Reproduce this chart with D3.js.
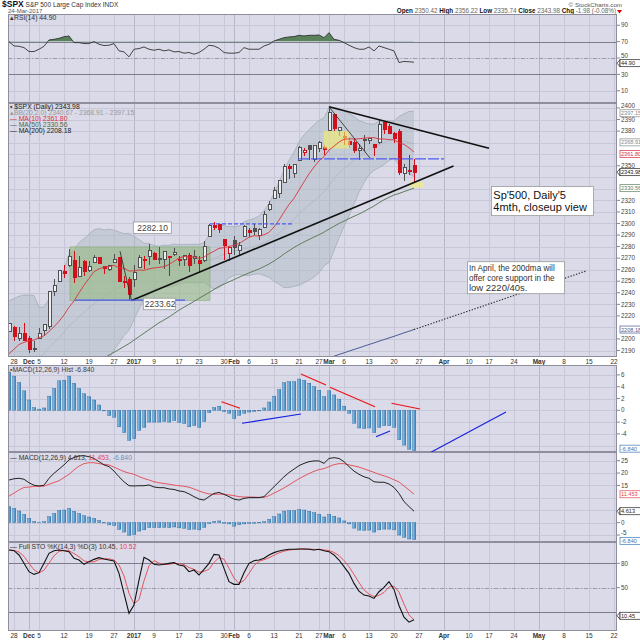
<!DOCTYPE html>
<html>
<head>
<meta charset="utf-8">
<script src="https://d3js.org/d3.v7.min.js"></script>
<style>
  body { margin: 0; background: #fff; }
  svg { display: block; }
  text { font-family: "Liberation Sans", Arial, sans-serif; }
</style>
</head>
<body>
<svg id="chart" width="640" height="640"></svg>
<script>
// ---- calendar ----
var firstDay = "2016-11-25", lastDay = "2017-05-22";
var holidays = ["2016-12-26", "2017-01-02", "2017-01-16", "2017-02-20", "2017-04-14"];
var tickDates = ["2016-11-28","2016-12-01","2016-12-05","2016-12-12","2016-12-19","2016-12-27","2017-01-03","2017-01-09",
  "2017-01-17","2017-01-23","2017-01-30","2017-02-01","2017-02-06","2017-02-13","2017-02-21","2017-02-27","2017-03-01",
  "2017-03-06","2017-03-13","2017-03-20","2017-03-27","2017-04-03","2017-04-10","2017-04-17","2017-04-24","2017-05-01",
  "2017-05-08","2017-05-15","2017-05-22"];
var tickLabels = ["28","Dec","5","12","19","27","2017","9","17","23","30","Feb","6","13","21","27","Mar","6","13","20","27",
  "Apr","10","17","24","May","8","15","22"];
var monthLabels = ["Dec", "2017", "Feb", "Mar", "Apr", "May"];

// ---- daily prices 25-Nov-2016 .. 24-Mar-2017 ----
var opens = [2206.27,2210.21,2200.76,2204.97,2200.17,2191.12,2200.65,2207.26,2210.72,2241.13,
  2249.73,2258.83,2263.32,2268.35,2253.77,2266.81,2259.24,2266.50,2270.54,2262.93,
  2260.25,2266.23,2270.23,2249.50,2251.61,2251.57,2261.60,2268.18,2271.14,2273.59,
  2269.72,2268.60,2271.14,2272.74,2269.14,2269.14,2271.90,2269.96,2267.78,2267.88,
  2288.88,2298.63,2299.02,2286.01,2274.02,2285.59,2276.69,2288.54,2294.28,2295.87,
  2289.55,2296.70,2312.27,2321.72,2326.12,2335.58,2349.64,2343.01,2354.91,2361.11,
  2367.50,2355.73,2365.23,2366.08,2380.13,2394.75,2380.92,2375.23,2370.74,2369.81,
  2363.49,2372.52,2371.56,2368.55,2370.34,2387.71,2383.71,2378.24,2379.32,2343.00,
  2345.97,2350.42];
var highs = [2213.35,2211.14,2210.46,2214.10,2202.60,2197.95,2209.42,2212.78,2241.63,2251.69,
  2259.80,2264.03,2277.53,2276.20,2272.12,2268.05,2267.47,2272.56,2271.23,2263.18,
  2263.79,2273.82,2271.31,2254.51,2253.58,2263.88,2272.82,2271.50,2282.10,2275.49,
  2279.27,2275.32,2271.78,2278.68,2272.08,2272.01,2274.33,2276.96,2271.78,2284.63,
  2299.55,2300.99,2299.02,2286.01,2279.09,2289.14,2283.97,2298.31,2296.18,2299.40,
  2295.91,2311.08,2319.23,2331.58,2337.58,2351.30,2351.31,2351.16,2366.71,2365.13,
  2368.26,2367.34,2371.54,2367.79,2400.98,2394.75,2383.89,2378.80,2375.12,2373.09,
  2369.08,2376.86,2374.42,2368.55,2390.01,2388.10,2385.71,2379.55,2381.93,2351.81,
  2358.92,2356.22];
var lows = [2206.27,2198.36,2198.15,2198.81,2187.44,2188.37,2199.97,2202.21,2208.93,2237.57,
  2249.23,2252.37,2262.72,2248.44,2253.77,2254.24,2258.21,2266.14,2265.15,2256.08,
  2258.84,2266.15,2249.11,2244.56,2233.62,2245.13,2261.60,2260.45,2264.06,2268.04,
  2265.27,2260.83,2254.25,2271.51,2262.81,2263.35,2258.41,2265.01,2257.02,2266.68,
  2288.88,2294.08,2291.62,2268.04,2267.21,2272.44,2271.65,2287.88,2288.57,2290.16,
  2285.38,2296.61,2311.10,2321.42,2322.17,2334.81,2338.87,2339.58,2354.91,2358.34,
  2355.09,2352.87,2361.87,2358.96,2380.13,2380.17,2375.39,2367.98,2365.51,2361.01,
  2354.54,2363.04,2368.52,2358.18,2368.94,2377.18,2377.64,2369.66,2341.90,2336.45,
  2342.13,2335.74];
var closes = [2213.35,2201.72,2204.66,2198.81,2191.08,2191.95,2204.71,2212.23,2241.35,2246.19,
  2259.53,2256.96,2271.72,2253.28,2262.03,2258.07,2262.53,2270.76,2265.18,2260.96,
  2263.79,2268.88,2249.92,2249.26,2238.83,2257.83,2270.75,2269.00,2276.98,2268.90,
  2268.90,2275.32,2270.44,2274.64,2267.89,2271.89,2263.69,2271.31,2265.20,2280.07,
  2298.37,2296.68,2294.69,2280.90,2278.87,2279.55,2280.85,2297.42,2292.56,2293.08,
  2294.67,2307.87,2316.10,2328.25,2337.58,2349.25,2347.22,2351.16,2365.38,2362.82,
  2363.81,2367.34,2369.75,2363.64,2395.96,2381.92,2383.12,2375.31,2368.39,2362.98,
  2364.87,2372.60,2373.47,2365.45,2385.26,2381.38,2378.25,2373.47,2344.02,2348.45,
  2345.96,2343.98];
var prevClose = 2204.72;

// ---- overlays ----
var ma10 = [2187.3,2191.1,2195.2,2197.1,2198.5,2199.0,2201.3,2202.7,2206.5,2210.6,
  2215.3,2220.8,2227.5,2232.9,2240.0,2246.6,2252.4,2258.3,2260.7,2262.2,
  2262.6,2263.8,2261.6,2261.2,2258.9,2258.9,2259.7,2259.5,2260.7,2261.5,
  2262.0,2262.6,2264.6,2267.2,2270.1,2271.5,2270.8,2271.0,2269.8,2270.9,
  2273.8,2276.0,2278.5,2279.1,2280.2,2281.0,2282.7,2285.3,2288.1,2289.4,
  2289.1,2290.2,2292.3,2297.0,2302.9,2309.8,2316.4,2321.8,2329.0,2336.0,
  2342.9,2348.8,2354.2,2357.8,2363.6,2366.9,2370.5,2372.9,2373.2,2373.2,
  2373.3,2373.9,2374.2,2374.3,2373.2,2373.1,2372.6,2372.4,2370.0,2368.5,
  2365.5,2361.8];
var bbMid = [2155.5,2159.3,2163.2,2167.6,2172.3,2177.5,2183.5,2187.5,2192.5,2196.7,
  2201.3,2206.0,2211.4,2215.0,2219.3,2222.8,2226.9,2230.5,2233.6,2236.4,
  2239.0,2242.3,2244.6,2247.1,2249.5,2252.8,2256.1,2258.9,2260.7,2261.9,
  2262.3,2263.2,2263.1,2264.2,2264.5,2265.2,2265.3,2265.3,2265.3,2266.2,
  2267.9,2269.3,2271.6,2273.2,2275.2,2276.3,2276.8,2278.2,2279.0,2280.2,
  2281.5,2283.1,2285.4,2288.1,2291.6,2295.4,2299.6,2303.6,2308.6,2312.7,
  2316.0,2319.5,2323.3,2327.4,2333.3,2338.4,2343.5,2347.4,2351.1,2354.6,
  2358.1,2361.4,2364.2,2366.1,2368.4,2370.0,2371.6,2372.7,2371.6,2370.9,
  2370.0,2368.91];
var bbUpper = [2233,2235,2237,2238,2238,2237.7,2227.5,2227.5,2234.5,2242.7,
  2250,2260,2273.4,2277,2283.3,2286.8,2290.9,2294.5,2295.6,2294.4,
  2295,2294.3,2292.6,2291.1,2291.5,2288.8,2286.1,2282.9,2282.7,2280.9,
  2280.3,2281.2,2281.1,2282.2,2281.5,2281.8,2281.9,2281.9,2281.9,2283.2,
  2289.9,2295.3,2298.6,2298.2,2297.2,2297.3,2297.8,2301.2,2303,2304.2,
  2306.5,2311.1,2317.4,2326.1,2335.6,2346.4,2354.6,2361.6,2370.6,2376.7,
  2381,2385.5,2389.3,2391.4,2400.3,2400.4,2399.5,2397.4,2395.1,2392.6,
  2389.1,2387.4,2386.2,2386.1,2388.4,2389,2388.6,2388.7,2392.6,2394.9,
  2397,2397.15];
var bbLower = [2078,2083,2089,2098,2106,2117,2139.5,2147.5,2150.5,2150.7,
  2152,2152,2149.4,2153,2155,2158.8,2162.9,2166.5,2171.6,2178.4,
  2183,2190.3,2196.6,2203,2207.5,2216.8,2226,2235,2238.7,2242.9,
  2244.3,2245.2,2245,2246,2247.5,2248.6,2248.7,2248.7,2248.7,2249,
  2246,2243,2244.6,2248,2253,2255,2256,2255,2255,2256,
  2256.5,2255,2253.4,2250,2247.6,2244.4,2244.6,2245.6,2246.6,2248.7,
  2251,2253.5,2257.3,2263.4,2266.3,2276.4,2287.5,2297.4,2307,2316.6,
  2327,2335.4,2342,2346,2348.4,2351,2354.6,2356.7,2350.6,2346.9,
  2343,2340.67];
var ma50From = 18;
var ma50 = [2181,2183.5,2186,2188.5,2191,2193.5,2196,2199,2202,2205,
  2208,2211,2214,2216.5,2219,2222,2225,2227.5,2230,2232.5,
  2235.2,2237.7,2240.2,2242.9,2245.5,2247.5,2249.5,2251.4,2253.4,2255.4,
  2257.2,2258.9,2260.6,2262.7,2264.9,2267.5,2270.4,2273.6,2276.4,2279.2,
  2281.7,2284.0,2286.1,2288.3,2290.2,2292.5,2295.1,2297.6,2300.0,2302.1,
  2304.2,2306.2,2308.2,2310.3,2312.8,2315.1,2318.0,2320.5,2322.6,2324.7,
  2326.0,2327.6,2329.1,2330.56];
var ma200From = 61;
var ma200 = [2179.3,2180.8,2182.2,2183.7,2185.1,2186.6,2188.0,2189.5,2190.9,2192.3,
  2193.8,2195.2,2196.6,2198.1,2199.5,2200.9,2202.3,2203.8,2205.3,2206.7,2208.18];

// ---- indicators ----
var rsi = [70,64.7,64.3,62.7,57.9,57.9,60.7,64.3,72,72.8,74,76,76.9,68.8,68.8,67.6,67.6,70,66.8,65.2,
  65.6,67.6,58.7,57.5,51.4,60.7,61.5,63.5,60.7,59.5,60.7,58.7,59.9,57.5,57.9,55.9,56.7,54.6,56.7,60.7,
  65.6,64.7,61.9,56.7,55.9,55.9,56.7,62.7,60.7,60.7,60.7,64.7,66.8,70.8,72.8,74.8,75.7,76.1,77.7,76.9,
  77.7,77.7,78.1,74.8,80.9,72.8,71.6,68.8,65.6,62.7,60.7,60.7,63.5,58.7,64.7,62.7,60.7,58.7,44.5,45.8,
  45.4,44.9];
var macdLine = [17.2,17.7,17.9,17.5,16.1,15.1,14.8,15.1,17.9,19.9,21.6,23.3,25.3,26.3,26.9,27.0,26.6,25.9,24.6,23.3,
  22.6,20.8,18.5,16.5,14.9,14.8,14.9,14.9,15.2,14.4,14.1,14.1,13.6,13.4,12.8,12.5,11.6,10.5,9.5,9.1,
  10.5,11.8,12.2,11.4,10.5,9.5,9.1,9.8,10.1,10.1,10.1,10.5,12.5,14.5,16.5,18.5,20.2,21.6,23.0,23.9,
  24.6,24.9,24.9,23.9,25.9,26.2,25.9,24.6,22.6,20.8,19.5,18.5,17.9,16.5,16.3,16.3,15.6,14.2,11.8,8.5,
  6.5,4.613];
var macdSignal = [10.7,11.9,13.2,14.2,14.35,14.65,14.6,14.7,15.5,16.2,16.9,18.2,19.5,21.3,22.8,23.8,24.2,24.15,23.8,23.5,
  23.3,22.4,21.5,20.6,20.0,19.5,18.6,17.8,17.2,16.5,16.1,15.8,15.5,15.15,14.9,14.7,14.3,13.6,12.8,12.1,
  11.6,11.4,11.5,11.5,11.2,10.9,10.5,10.35,10.35,10.3,10.2,10.2,10.9,11.9,12.9,14.0,15.2,16.5,17.7,18.8,
  19.8,20.7,21.4,21.8,22.6,23.4,23.8,23.8,23.3,22.9,22.4,21.7,21.0,20.3,19.5,18.9,18.2,17.3,16.4,14.8,
  13.2,11.453];
var macdHist = [6.5,5.8,4.7,3.3,1.75,0.45,0.2,0.4,2.4,3.7,5.0,5.1,5.8,4.6,3.7,2.8,2.3,1.75,0.9,-0.1,
  -0.9,-1.2,-2.8,-3.8,-5.1,-4.8,-3.4,-2.9,-2.0,-2.0,-2.0,-1.9,-2.0,-1.75,-2.1,-2.25,-2.8,-2.6,-2.9,-1.9,
  -0.4,0.45,0.7,-0.2,-0.5,-1.4,-0.85,-0.5,-0.3,-0.2,-0.1,0.4,1.4,2.4,3.5,4.7,4.85,4.85,5.3,5.1,
  4.6,4.0,3.4,2.3,3.3,2.6,1.9,0.7,-0.5,-2.2,-3.0,-3.1,-3.0,-3.8,-2.9,-2.6,-2.6,-2.9,-5.0,-5.9,
  -6.6,-6.84];
var stoK = [96.5,95.6,90.3,80,69.7,66.4,68.5,80,92.3,95.6,96.5,95.6,94.4,86.2,84.1,78.8,82.1,84.9,87,85.3,
  84.1,82.9,67.7,43,18.3,28.6,59.4,87.4,84.1,78.8,77.9,78.8,80,80.8,77.9,76.7,69.7,71.8,65.6,72.6,
  80,91.1,90.3,73.8,57.4,54.1,54.1,68.5,80,83.3,84.1,86.2,90.3,93.2,95.2,96.5,97.3,97.3,97.7,97.7,
  97.3,96.5,97.3,95.6,94.4,90.3,84.1,75.9,67.7,55.3,45.8,40.9,39.7,36.8,45,50.4,57.4,47.9,28,13.6,
  7.5,10.45];
var stoD = [96.5,96.0,94.1,88.6,80,72.0,68.2,71.6,80.3,89.3,94.8,95.9,95.5,92.1,88.2,83.0,81.7,81.9,84.7,85.7,
  85.5,84.1,78.2,64.5,43,30,35.4,58.5,77.0,83.4,80.3,78.5,78.9,79.9,79.6,78.5,74.8,72.7,69.0,70.0,
  72.7,81.2,87.1,85.1,73.8,61.8,55.2,58.9,67.5,77.3,82.5,84.5,86.9,89.9,92.9,95.0,96.3,97.0,97.4,97.6,
  97.6,97.2,97.0,96.5,95.8,93.4,89.6,83.4,75.9,66.3,56.3,47.3,42.1,39.1,40.5,44.1,50.9,51.9,44.4,29.8,
  16.4,10.52];

// ---- axis ticks ----
var rsiTicks = [90, 70, 50, 30, 10];
var priceTicks = [2400,2390,2380,2370,2360,2350,2340,2330,2320,2310,2300,2290,2280,2270,2260,2250,2240,2230,2220,2210,2200,2190];
var histTicks = [6, 4, 2, 0, -2, -4, -6];
var macdTicks = [25, 20, 15, 10, 5, 0, -5];
var stoTicks = [80, 50, 20];

// ---- annotations (day position, price) ----
var heavyLines = [[64, 2401, 96, 2365.1], [24.5, 2233.3, 88.9, 2349.8]];
var thinLines = [[64, 2401, 72.2, 2356.7], [22.2, 2276, 24.5, 2233.3]];
var levelSolid = [[13.2, 35.2, 2233.6]];
var levelDashed = [[40.2, 57, 2299.6], [57.8, 87, 2355.9]];
var projection = [81, 2208.18, 115.5, 2259];
var greenZones = [[12.2, 40.2, 2279.7, 2233.5]];
var yellowZones = [[62.9, 68.2, 2380.1, 2364.8], [80.1, 83, 2336, 2331]];
var callouts = [[24.86, 2301.3, "2282.10"], [26.86, 2235.3, "2233.62"]];
var noteBig = [96.5, 2331.9, "Sp'500, Daily'5", "4mth, closeup view"];
var noteSmall = [91.7, 2266.9, "In April, the 200dma will", "offer core support in the", "low 2220/40s."];
var histRed = [[42.5, 1.46, 46.2, 0.34], [58.4, 6.15, 63.4, 4.3], [64.2, 3.9, 73.2, 0.6], [76.5, 1.2, 82.2, 0.22]];
var histBlue = [[46.6, -2.2, 58.4, -0.63], [73.4, -4.5, 76.2, -3.5], [84.2, -7.2, 99.4, -0.3]];
var quote = [["Open", "2350.42"], ["High", "2356.22"], ["Low", "2335.74"], ["Close", "2343.98"], ["Chg", "-1.98 (-0.08%)"]];

var plotL = 8, plotR = 617, bg = "#dadae8";
var svg = d3.select("#chart");
var defs = svg.append("defs");
svg.append("rect").attr("width", 640).attr("height", 640).attr("fill", "#fff");

var parseDay = d3.timeParse("%Y-%m-%d"), fmtDay = d3.timeFormat("%Y-%m-%d");
var days = d3.timeDay.range(parseDay(firstDay), d3.timeDay.offset(parseDay(lastDay), 1)).map(fmtDay)
  .filter(function (s) { var w = parseDay(s).getDay(); return w !== 0 && w !== 6 && holidays.indexOf(s) < 0; });
var ticks = tickDates.map(function (s, k) {
  return { p: days.indexOf(s), label: tickLabels[k], month: monthLabels.indexOf(tickLabels[k]) >= 0 };
});

var x = d3.scaleLinear().domain([-0.2, 121.6]).range([plotL, plotR]);
function px(p) { return Math.round(x(p)) + 0.5; }

var grad = defs.append("linearGradient").attr("id", "histGrad").attr("x1", 0).attr("x2", 1).attr("y1", 0).attr("y2", 0);
grad.append("stop").attr("offset", 0).attr("stop-color", "#a8d2ee");
grad.append("stop").attr("offset", 1).attr("stop-color", "#2f7cbc");

function panel(top, bottom, domain, grid) {
  var y = d3.scaleLinear().domain(domain).range([bottom, top]);
  var id = "clip" + top;
  defs.append("clipPath").attr("id", id).append("rect")
    .attr("x", plotL).attr("y", top).attr("width", plotR - plotL).attr("height", bottom - top);
  var g = svg.append("g");
  g.append("rect").attr("x", plotL).attr("y", top).attr("width", plotR - plotL).attr("height", bottom - top).attr("fill", bg);
  ticks.forEach(function (t) {
    g.append("line").attr("x1", px(t.p)).attr("x2", px(t.p)).attr("y1", top).attr("y2", bottom)
      .attr("stroke", t.month ? "#b6b6c8" : "#c7c7d7");
  });
  grid.forEach(function (v) {
    var yy = Math.round(y(v)) + 0.5;
    g.append("line").attr("x1", plotL).attr("x2", plotR).attr("y1", yy).attr("y2", yy).attr("stroke", "#c7c7d7");
  });
  var body = g.append("g").attr("clip-path", "url(#" + id + ")");
  return { y: y, g: g, body: body, top: top, bottom: bottom };
}

function series(P, arr, from) {
  from = from || 0;
  return d3.line().defined(function (d) { return d != null; })
    .x(function (d, i) { return x(i + from); }).y(function (d) { return P.y(d); })(arr);
}

function refLine(P, v, dash, col) {
  var yy = Math.round(P.y(v)) + 0.5;
  P.body.append("line").attr("x1", plotL).attr("x2", plotR).attr("y1", yy).attr("y2", yy)
    .attr("stroke", col).attr("stroke-dasharray", dash);
}

function rightLabels(P, vals, hide, shift) {
  vals.forEach(function (v) {
    if (hide && hide.indexOf(v) >= 0) return;
    var yy = P.y(v);
    var dy = (shift && shift[v]) || 0;
    svg.append("line").attr("x1", plotR).attr("x2", plotR + 3).attr("y1", yy).attr("y2", yy).attr("stroke", "#888");
    svg.append("text").attr("x", plotR + 4).attr("y", yy + 2.2 + dy).attr("font-size", 6.3).attr("fill", "#444").text(v);
  });
}

function tag(yy, txt, col, arrow) {
  var g = svg.append("g");
  if (arrow) {
    g.append("path").attr("d", "M" + plotR + "," + yy + "L" + (plotR + 3) + "," + (yy - 3.5) + "L" + (plotR + 3) + "," + (yy + 3.5) + "Z")
      .attr("fill", "#fff").attr("stroke", col).attr("stroke-width", 0.7);
  }
  g.append("rect").attr("x", plotR + 3).attr("y", yy - 3.5).attr("width", 22).attr("height", 7)
    .attr("fill", "#fff").attr("stroke", col).attr("stroke-width", 0.7);
  g.append("text").attr("x", plotR + 4).attr("y", yy + 2).attr("font-size", 5.6).attr("fill", col).text(txt);
}

function legend(yy, parts) {
  var t = svg.append("text").attr("x", 10).attr("y", yy).attr("font-size", 6.8);
  parts.forEach(function (p) { t.append("tspan").attr("fill", p[1]).text(p[0]); });
}

function finish(P) {
  svg.append("rect").attr("x", plotL + 0.5).attr("y", P.top + 0.5).attr("width", plotR - plotL - 1).attr("height", P.bottom - P.top - 1)
    .attr("fill", "none").attr("stroke", "#8e8e9e");
}

// ---- header ----
var h1 = svg.append("text").attr("x", 2).attr("y", 7).attr("font-size", 6.5).attr("fill", "#333");
h1.append("tspan").attr("font-weight", "bold").attr("font-size", 8.5).attr("fill", "#111").text("$SPX");
h1.append("tspan").text(" S&P 500 Large Cap Index  INDX");
svg.append("text").attr("x", 8).attr("y", 13).attr("font-size", 6).attr("fill", "#555").text("24-Mar-2017");
svg.append("text").attr("x", 622).attr("y", 7).attr("text-anchor", "end").attr("font-size", 6.2).attr("fill", "#555").text("© StockCharts.com");
var h2 = svg.append("text").attr("x", 616).attr("y", 13).attr("text-anchor", "end").attr("font-size", 6.3);
quote.forEach(function (q, k) {
  h2.append("tspan").attr("font-weight", "bold").attr("fill", "#111").text((k ? "  " : "") + q[0] + " ");
  h2.append("tspan").attr("fill", "#666").text(q[1]);
});
svg.append("path").attr("d", "M617,10L622,10L619.5,13.5Z").attr("fill", "#d00");

// ---- RSI ----
var rsiP = panel(14, 103, [-4.9, 103.7], rsiTicks);
refLine(rsiP, 70, null, "#7c7c8c");
refLine(rsiP, 30, null, "#7c7c8c");
refLine(rsiP, 50, "4,2,1,2", "#9a9aaa");
defs.append("clipPath").attr("id", "rsiHigh").append("rect")
  .attr("x", plotL).attr("y", 14).attr("width", plotR - plotL).attr("height", rsiP.y(70) - 14);
rsiP.body.append("path").datum(rsi).attr("clip-path", "url(#rsiHigh)")
  .attr("d", d3.area().x(function (d, i) { return x(i); }).y0(rsiP.y(70)).y1(function (d) { return rsiP.y(d); }))
  .attr("fill", "#5a825a");
rsiP.body.append("path").attr("d", series(rsiP, rsi)).attr("fill", "none").attr("stroke", "#333").attr("stroke-width", 0.9);
finish(rsiP);
legend(20, [["▴RSI(14) 44.90", "#333"]]);
rightLabels(rsiP, rsiTicks, null, { 50: -2 });
tag(rsiP.y(44.9) + 1, "44.90", "#222", true);

// ---- price panel ----
var mainP = panel(103, 357, [2184.4, 2404.3], priceTicks);
var yM = mainP.y, B = mainP.body;
B.append("path").datum(bbUpper)
  .attr("d", d3.area().x(function (d, i) { return x(i); }).y0(function (d, i) { return yM(bbLower[i]); }).y1(function (d) { return yM(d); }))
  .attr("fill", "#aebcc4").attr("fill-opacity", 0.5);
B.append("path").attr("d", series(mainP, bbUpper)).attr("fill", "none").attr("stroke", "#a3aeb8").attr("stroke-width", 0.8);
B.append("path").attr("d", series(mainP, bbLower)).attr("fill", "none").attr("stroke", "#a3aeb8").attr("stroke-width", 0.8);
B.append("path").attr("d", series(mainP, bbMid)).attr("fill", "none").attr("stroke", "#a8b0ba").attr("stroke-width", 0.6);

greenZones.forEach(function (z) {
  B.append("rect").attr("x", x(z[0])).attr("y", yM(z[2])).attr("width", x(z[1]) - x(z[0])).attr("height", yM(z[3]) - yM(z[2]))
    .attr("fill", "#94b87e").attr("fill-opacity", 0.55).attr("stroke", "#8aa878").attr("stroke-width", 0.6);
});

var candles = B.append("g").attr("shape-rendering", "crispEdges");
closes.forEach(function (c, i) {
  var o = opens[i], prev = i ? closes[i - 1] : prevClose;
  var col = c >= prev ? "#505050" : "#d0101a";
  var cx = px(i), top = Math.max(o, c), bot = Math.min(o, c);
  candles.append("line").attr("x1", cx).attr("x2", cx).attr("y1", yM(highs[i])).attr("y2", yM(top)).attr("stroke", col);
  candles.append("line").attr("x1", cx).attr("x2", cx).attr("y1", yM(bot)).attr("y2", yM(lows[i])).attr("stroke", col);
  candles.append("rect").attr("x", cx - 1.5).attr("y", yM(top)).attr("width", 3).attr("height", Math.max(1, yM(bot) - yM(top)))
    .attr("fill", c < o ? col : "#eceef3").attr("stroke", col).attr("stroke-width", 1);
});

yellowZones.forEach(function (z) {
  B.append("rect").attr("x", x(z[0])).attr("y", yM(z[2])).attr("width", x(z[1]) - x(z[0])).attr("height", yM(z[3]) - yM(z[2]))
    .attr("fill", "#f4ee6a").attr("fill-opacity", 0.6);
});

B.append("path").attr("d", series(mainP, ma10)).attr("fill", "none").attr("stroke", "#d8333b").attr("stroke-width", 0.9);
B.append("path").attr("d", series(mainP, ma50, ma50From)).attr("fill", "none").attr("stroke", "#5e7e5e").attr("stroke-width", 1);
B.append("path").attr("d", series(mainP, ma200, ma200From)).attr("fill", "none").attr("stroke", "#4b5c92").attr("stroke-width", 1);

heavyLines.forEach(function (l) {
  B.append("line").attr("x1", x(l[0])).attr("y1", yM(l[1])).attr("x2", x(l[2])).attr("y2", yM(l[3]))
    .attr("stroke", "#111").attr("stroke-width", 1.6);
});
thinLines.forEach(function (l) {
  B.append("line").attr("x1", x(l[0])).attr("y1", yM(l[1])).attr("x2", x(l[2])).attr("y2", yM(l[3]))
    .attr("stroke", "#222").attr("stroke-width", 0.8);
});
levelSolid.forEach(function (l) {
  B.append("line").attr("x1", x(l[0])).attr("x2", x(l[1])).attr("y1", yM(l[2])).attr("y2", yM(l[2]))
    .attr("stroke", "#4f5bf0").attr("stroke-width", 1.4);
});
levelDashed.forEach(function (l, k) {
  B.append("line").attr("x1", x(l[0])).attr("x2", x(l[1])).attr("y1", yM(l[2])).attr("y2", yM(l[2]))
    .attr("stroke", "#4f5bf0").attr("stroke-width", 1.3).attr("stroke-dasharray", k ? "11,2" : "4,2");
});
B.append("line").attr("x1", x(projection[0])).attr("y1", yM(projection[1])).attr("x2", x(projection[2])).attr("y2", yM(projection[3]))
  .attr("stroke", "#222").attr("stroke-width", 1.1).attr("stroke-dasharray", "1.3,1.6");

callouts.forEach(function (c) {
  var g = B.append("g").attr("transform", "translate(" + x(c[0]) + "," + yM(c[1]) + ")");
  g.append("rect").attr("width", c[2] === "2282.10" ? 38 : 32).attr("height", 11.5).attr("fill", "#fff").attr("stroke", "#999").attr("stroke-width", 0.8);
  g.append("text").attr("x", c[2] === "2282.10" ? 4 : 1.5).attr("y", 8.8).attr("font-size", 8.5).attr("fill", "#444").text(c[2]);
});

var nb = B.append("g").attr("transform", "translate(" + x(noteBig[0]) + "," + yM(noteBig[1]) + ")");
nb.append("rect").attr("width", 102).attr("height", 29).attr("fill", "#fff").attr("stroke", "#999").attr("stroke-width", 0.8);
nb.append("text").attr("x", 1.8).attr("y", 12.2).attr("font-size", 11).attr("fill", "#111").text(noteBig[2]);
nb.append("text").attr("x", 1.8).attr("y", 24.8).attr("font-size", 11).attr("fill", "#111").text(noteBig[3]);

var ns = B.append("g").attr("transform", "translate(" + x(noteSmall[0]) + "," + yM(noteSmall[1]) + ")");
ns.append("rect").attr("width", 97).attr("height", 32).attr("fill", "#fff").attr("stroke", "#999").attr("stroke-width", 0.8);
noteSmall.slice(2).forEach(function (s, k) {
  var t = ns.append("text").attr("x", 1.4).attr("y", 9.3 + k * 9.8).attr("font-size", 9.5)
    .style("font-family", "'Liberation Sans Narrow', 'Liberation Sans', Arial, sans-serif").attr("fill", "#333").text(s);
  var w = t.node().getComputedTextLength();
  if (w > 86) t.attr("font-size", 9.5 * 86 / w);
});
finish(mainP);

legend(109, [["▪ $SPX (Daily) 2343.98", "#222"]]);
legend(115, [["▴BB(20,2.0) 2340.67 - 2368.91 - 2397.15", "#999"]]);
legend(121, [["— MA(10) 2361.80", "#d8333b"]]);
legend(127, [["— MA(50) 2330.56", "#4e6a4e"]]);
legend(133, [["— MA(200) 2208.18", "#222"]]);
rightLabels(mainP, priceTicks, [2370, 2360, 2340, 2330, 2210], { 2400: -2 });
tag(yM(2397.15) + 2, "2397.15", "#888");
tag(yM(2368.91) - 1.5, "2368.91", "#888");
tag(yM(2361.80) + 2, "2361.80", "#d8333b");
tag(yM(2343.98) - 0.5, "2343.98", "#222", true);
tag(yM(2330.56), "2330.56", "#5e7e5e");
tag(yM(2208.18), "2208.18", "#4b5c92");

// ---- date labels ----
function dateLabels(yy) {
  ticks.forEach(function (t) {
    svg.append("text").attr("x", x(t.p)).attr("y", yy).attr("text-anchor", "middle").attr("font-size", 6.5)
      .attr("font-weight", t.month ? "bold" : "normal").attr("fill", "#333").text(t.label);
  });
}
dateLabels(363.5);

// ---- MACD histogram ----
var histP = panel(365, 452, [-7.07, 7.68], histTicks);
function bars(P, arr) {
  arr.forEach(function (v, i) {
    var y0 = P.y(0), y1 = P.y(v);
    P.body.append("rect").attr("x", x(i) - 1.8).attr("y", Math.min(y0, y1)).attr("width", 3.6).attr("height", Math.abs(y1 - y0))
      .attr("fill", "url(#histGrad)").attr("stroke", "#2b6a9c").attr("stroke-width", 0.4);
  });
}
bars(histP, macdHist);
finish(histP);
histRed.forEach(function (l) {
  svg.append("line").attr("x1", x(l[0])).attr("y1", histP.y(l[1])).attr("x2", x(l[2])).attr("y2", histP.y(l[3]))
    .attr("stroke", "#ee1111").attr("stroke-width", 1.1);
});
histBlue.forEach(function (l) {
  svg.append("line").attr("x1", x(l[0])).attr("y1", histP.y(l[1])).attr("x2", x(l[2])).attr("y2", histP.y(l[3]))
    .attr("stroke", "#1520e0").attr("stroke-width", 1.1);
});
legend(372, [["▪MACD(12,26,9) Hist -6.840", "#444"]]);
rightLabels(histP, histTicks, [-6]);
tag(histP.y(-6.84) - 2, "-6.840", "#3a78b8");

// ---- MACD ----
var macdP = panel(452, 542, [-7.8, 28.5], macdTicks);
bars(macdP, macdHist);
macdP.body.append("path").attr("d", series(macdP, macdSignal)).attr("fill", "none").attr("stroke", "#e4474f").attr("stroke-width", 0.9);
macdP.body.append("path").attr("d", series(macdP, macdLine)).attr("fill", "none").attr("stroke", "#222").attr("stroke-width", 1);
finish(macdP);
legend(460, [["— MACD(12,26,9) 4.613, ", "#333"], ["11.453", "#e4474f"], [", -6.840", "#6a8fc0"]]);
rightLabels(macdP, macdTicks, [10, 5], { "-5": -2.5 });
tag(macdP.y(11.453), "11.453", "#e4474f");
tag(macdP.y(4.613), "4.613", "#222", true);
tag(macdP.y(-6.84) + 1.2, "-6.840", "#3a78b8");

// ---- Full Stochastics ----
var stoP = panel(542, 631, [-3.4, 106.3], stoTicks);
refLine(stoP, 80, null, "#7c7c8c");
refLine(stoP, 20, null, "#7c7c8c");
refLine(stoP, 50, "4,2,1,2", "#9a9aaa");
stoP.body.append("path").attr("d", series(stoP, stoD)).attr("fill", "none").attr("stroke", "#e4474f").attr("stroke-width", 0.9);
stoP.body.append("path").attr("d", series(stoP, stoK)).attr("fill", "none").attr("stroke", "#111").attr("stroke-width", 1.1);
finish(stoP);
legend(549, [["— Full STO %K(14,3) %D(3) 10.45, ", "#333"], ["10.52", "#e4474f"]]);
rightLabels(stoP, stoTicks, [20]);
tag(stoP.y(10.45) - 4, "10.45", "#222", true);

dateLabels(637.5);
</script>
</body>
</html>
